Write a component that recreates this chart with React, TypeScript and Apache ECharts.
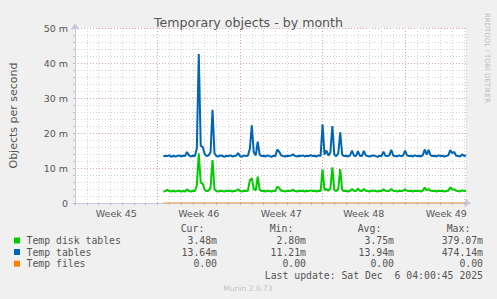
import React, { useEffect, useRef } from "react";
import * as echarts from "echarts";

// x axis in days since Mon 3 Nov 2025 00:00; samples every 4 hours
const X_MIN = 0;
const X_MAX = 33.17;
const SAMPLE_START_DAY = 7.5;
const SAMPLES_PER_DAY = 6;
const WEEK_LABELS = ["Week 45", "Week 46", "Week 47", "Week 48", "Week 49"];
const Y_TICKS = [0, 10, 20, 30, 40, 50];

// values in milli-objects per second (m)
const TEMP_TABLES = [
  13.3, 13.5, 13.4, 13.6, 13.2, 13.5, 13.3, 13.4, 13.6, 13.3, 13.5, 13.4,
  14.6, 13.6, 13.3, 13.5, 13.4, 15.5, 42.6, 16.3, 16.0, 14.0, 13.4, 13.6,
  14.5, 26.6, 14.2, 13.4, 13.3, 13.6, 13.5, 13.2, 13.5, 13.4, 13.6, 13.3,
  13.4, 13.5, 14.3, 13.4, 13.2, 13.6, 13.4, 13.5, 15.5, 22.2, 14.5, 13.6,
  17.5, 13.8, 13.4, 13.5, 13.3, 13.6, 13.4, 13.2, 13.5, 13.4, 15.3, 14.6,
  13.6, 13.4, 13.3, 13.5, 13.4, 13.6, 13.9, 13.4, 13.3, 13.5, 13.4, 13.6,
  13.3, 13.5, 13.4, 13.7, 13.4, 13.5, 13.3, 13.6, 13.4, 22.5, 13.8, 15.0,
  13.5, 14.5, 22.0, 13.8, 13.4, 14.2, 20.2, 13.8, 13.4, 13.5, 13.3, 13.6,
  15.0, 13.5, 13.4, 14.8, 13.5, 13.4, 14.9, 13.6, 13.4, 13.3, 13.5, 13.6,
  13.4, 13.2, 13.5, 13.4, 14.7, 13.5, 13.4, 13.6, 15.2, 13.5, 13.4, 13.3,
  13.6, 13.4, 13.5, 15.0, 13.6, 13.4, 13.5, 13.3, 13.6, 13.4, 13.5, 13.3,
  13.6, 15.3, 13.8, 15.2, 13.6, 13.4, 13.5, 13.3, 13.6, 13.4, 13.5, 13.3,
  13.4, 13.6, 15.1, 14.2, 14.6, 13.5, 13.4, 13.3, 13.9, 13.4, 13.64,
];

const TEMP_DISK_TABLES = [
  3.3, 3.4, 3.8, 3.4, 3.3, 3.5, 3.3, 3.4, 3.5, 3.3, 3.4, 3.3,
  3.9, 3.4, 3.3, 3.5, 3.4, 5.0, 14.2, 5.8, 5.5, 3.8, 3.4, 3.5,
  4.5, 12.3, 4.0, 3.4, 3.3, 3.5, 3.4, 3.3, 3.5, 3.4, 3.5, 3.3,
  3.4, 3.5, 3.9, 3.4, 3.3, 3.5, 3.4, 3.5, 6.5, 7.1, 4.0, 3.6,
  7.5, 3.8, 3.4, 3.5, 3.3, 3.5, 3.4, 3.3, 3.5, 3.4, 4.7, 4.2,
  3.5, 3.4, 3.3, 3.5, 3.4, 3.5, 3.8, 3.4, 3.3, 3.5, 3.4, 3.5,
  3.3, 3.5, 3.4, 3.6, 3.4, 3.5, 3.3, 3.5, 3.4, 9.6, 3.7, 4.0,
  3.5, 4.2, 10.2, 3.7, 3.4, 4.0, 9.7, 3.7, 3.4, 3.5, 3.3, 3.5,
  4.0, 3.5, 3.4, 4.1, 3.5, 3.4, 4.0, 3.5, 3.4, 3.3, 3.5, 3.5,
  3.4, 3.3, 3.5, 3.4, 3.9, 3.5, 3.4, 3.5, 4.0, 3.5, 3.4, 3.3,
  3.5, 3.4, 3.5, 3.9, 3.5, 3.4, 3.5, 3.3, 3.5, 3.4, 3.5, 3.3,
  3.5, 4.4, 3.6, 4.0, 3.5, 3.4, 3.5, 3.3, 3.5, 3.4, 3.5, 3.3,
  3.4, 3.5, 4.5, 3.8, 3.9, 3.5, 3.4, 3.3, 3.6, 3.4, 3.48,
];

const TEMP_FILES = TEMP_TABLES.map(() => 0);

const LEGEND_NAMES = ["Temp disk tables", "Temp tables", "Temp files"];
const LEGEND_COLORS = ["#00CC00", "#0066B3", "#FF8000"];
const LEGEND_HEADERS = ["Cur:", "Min:", "Avg:", "Max:"];
const LEGEND_CUR = ["3.48m", "13.64m", "0.00"];
const LEGEND_MIN = ["2.80m", "11.21m", "0.00"];
const LEGEND_AVG = ["3.75m", "13.94m", "0.00"];
const LEGEND_MAX = ["379.07m", "474.14m", "0.00"];
const LAST_UPDATE = "Last update: Sat Dec  6 04:00:45 2025";

const toPairs = (vals: number[]) =>
  vals.map((v, i) => [SAMPLE_START_DAY + i / SAMPLES_PER_DAY, v]);

export default function App() {
  const ref = useRef<HTMLDivElement>(null);
  useEffect(() => {
    if (!ref.current) return;
    const chart = echarts.init(ref.current, undefined, { renderer: "svg" });
    const MONO = "DejaVu Sans Mono";
    const SANS = "DejaVu Sans";
    const textColor = "#555555";
    const GRAY = "#D4D4D4";
    const RED = "#E8A0A0";
    const minorGrid = { color: GRAY, type: [1, 2] as any, width: 1 };
    const majorGrid = { color: RED, type: [1, 2] as any, width: 1 };
    // one red (week) line followed by six grey (day) lines
    const dayWeekGrid = { color: [RED, GRAY, GRAY, GRAY, GRAY, GRAY, GRAY], type: [1, 2] as any, width: 1 };

    const rowY = [240.5, 252, 263.7];
    const colRight = [217, 306, 394, 483];
    const headerX = [192.5, 281.5, 369.5, 458.5];
    const cols = [LEGEND_CUR, LEGEND_MIN, LEGEND_AVG, LEGEND_MAX];

    const graphics: any[] = [];
    LEGEND_HEADERS.forEach((h, c) => {
      graphics.push({
        type: "text",
        style: { text: h, x: headerX[c], y: 228, font: `9.8px ${MONO}`, fill: textColor, align: "center", textAlign: "center", verticalAlign: "middle", textVerticalAlign: "middle" },
      });
    });
    LEGEND_NAMES.forEach((n, r) => {
      graphics.push({
        type: "rect",
        shape: { x: 14, y: rowY[r] - 3, width: 6, height: 6 },
        style: { fill: LEGEND_COLORS[r] },
      });
      graphics.push({
        type: "text",
        style: { text: n, x: 26.5, y: rowY[r], font: `9.8px ${MONO}`, fill: textColor, align: "left", textAlign: "left", verticalAlign: "middle", textVerticalAlign: "middle" },
      });
      cols.forEach((col, c) => {
        graphics.push({
          type: "text",
          style: { text: col[r], x: colRight[c], y: rowY[r], font: `9.8px ${MONO}`, fill: textColor, align: "right", textAlign: "right", verticalAlign: "middle", textVerticalAlign: "middle" },
        });
      });
    });
    graphics.push({
      type: "text",
      style: { text: LAST_UPDATE, x: 483, y: 275.3, font: `9.8px ${MONO}`, fill: textColor, align: "right", textAlign: "right", verticalAlign: "middle", textVerticalAlign: "middle" },
    });
    graphics.push({
      type: "text",
      style: { text: "Munin 2.0.73", x: 248, y: 288.5, font: `7.5px ${SANS}`, fill: "#C4C4C4", align: "center", textAlign: "center", verticalAlign: "middle", textVerticalAlign: "middle" },
    });
    graphics.push({
      type: "text",
      x: 487,
      y: 58,
      rotation: -Math.PI / 2,
      style: { text: "RRDTOOL / TOBI OETIKER", x: 0, y: 0, font: `7px ${SANS}`, fill: "#BEBEBE", align: "center", textAlign: "center", verticalAlign: "middle", textVerticalAlign: "middle" },
    });

    const option: any = {
      animation: false,
      backgroundColor: "#F0F0F0",
      title: {
        text: "Temporary objects - by month",
        left: "center",
        top: 11,
        textStyle: { fontFamily: SANS, fontSize: 12.6, fontWeight: "normal", color: "#555555" },
      },
      grid: {
        left: 67,
        top: 28,
        width: 399,
        height: 175,
        show: true,
        backgroundColor: "#FFFFFF",
        borderWidth: 0,
      },
      xAxis: [
        {
          type: "value",
          position: "bottom",
          min: X_MIN,
          max: X_MAX,
          interval: 1,
          axisLine: {
            show: true,
            lineStyle: { color: "#C8C8E4", width: 1 },
            symbol: ["none", "arrow"],
            symbolSize: [7, 7],
            symbolOffset: [0, 5],
          },
          axisTick: { show: true, length: 2, lineStyle: { color: "#BBBBBB" } },
          axisLabel: { show: false },
          splitLine: { show: true, lineStyle: dayWeekGrid },
        },
        {
          type: "value",
          position: "bottom",
          min: X_MIN,
          max: X_MAX,
          interval: 3.5,
          axisLine: { show: false },
          axisTick: { show: false },
          splitLine: { show: false },
          axisLabel: {
            show: true,
            margin: 5,
            fontFamily: SANS,
            fontSize: 9.5,
            color: textColor,
            formatter: (v: number) => {
              const k = Math.round(v / 3.5);
              if (Math.abs(v - k * 3.5) < 1e-6 && k % 2 === 1) return WEEK_LABELS[(k - 1) / 2] ?? "";
              return "";
            },
          },
        },
      ],
      yAxis: {
        type: "value",
        min: Y_TICKS[0],
        max: Y_TICKS[Y_TICKS.length - 1],
        interval: 10,
        name: "Objects per second",
        nameLocation: "middle",
        nameGap: 56,
        nameTextStyle: { fontFamily: SANS, fontSize: 11, color: textColor },
        axisLine: {
          show: true,
          lineStyle: { color: "#C8C8E4", width: 1 },
          symbol: ["none", "arrow"],
          symbolSize: [7, 7],
          symbolOffset: [0, 5],
        },
        axisTick: { show: true, length: 2, lineStyle: { color: RED } },
        minorTick: { show: true, splitNumber: 5, length: 2, lineStyle: { color: "#BBBBBB" } },
        axisLabel: {
          fontFamily: SANS,
          fontSize: 9.5,
          color: textColor,
          margin: 7,
          formatter: (v: number) => (v === 0 ? "0" : `${v} m`),
        },
        splitLine: { show: true, lineStyle: majorGrid },
        minorSplitLine: { show: true, lineStyle: minorGrid },
      },
      series: [
        {
          name: LEGEND_NAMES[0],
          type: "line",
          data: toPairs(TEMP_DISK_TABLES),
          showSymbol: false,
          lineStyle: { color: LEGEND_COLORS[0], width: 2 },
          z: 3,
        },
        {
          name: LEGEND_NAMES[1],
          type: "line",
          data: toPairs(TEMP_TABLES),
          showSymbol: false,
          lineStyle: { color: LEGEND_COLORS[1], width: 2 },
          z: 4,
        },
        {
          name: LEGEND_NAMES[2],
          type: "line",
          data: toPairs(TEMP_FILES),
          showSymbol: false,
          lineStyle: { color: LEGEND_COLORS[2], width: 1 },
          z: 5,
        },
      ],
      graphic: graphics,
    };
    chart.setOption(option);
    return () => chart.dispose();
  }, []);
  return (
    <div
      ref={ref}
      style={{ position: "fixed", left: 0, top: 0, width: 497, height: 299 }}
    />
  );
}
